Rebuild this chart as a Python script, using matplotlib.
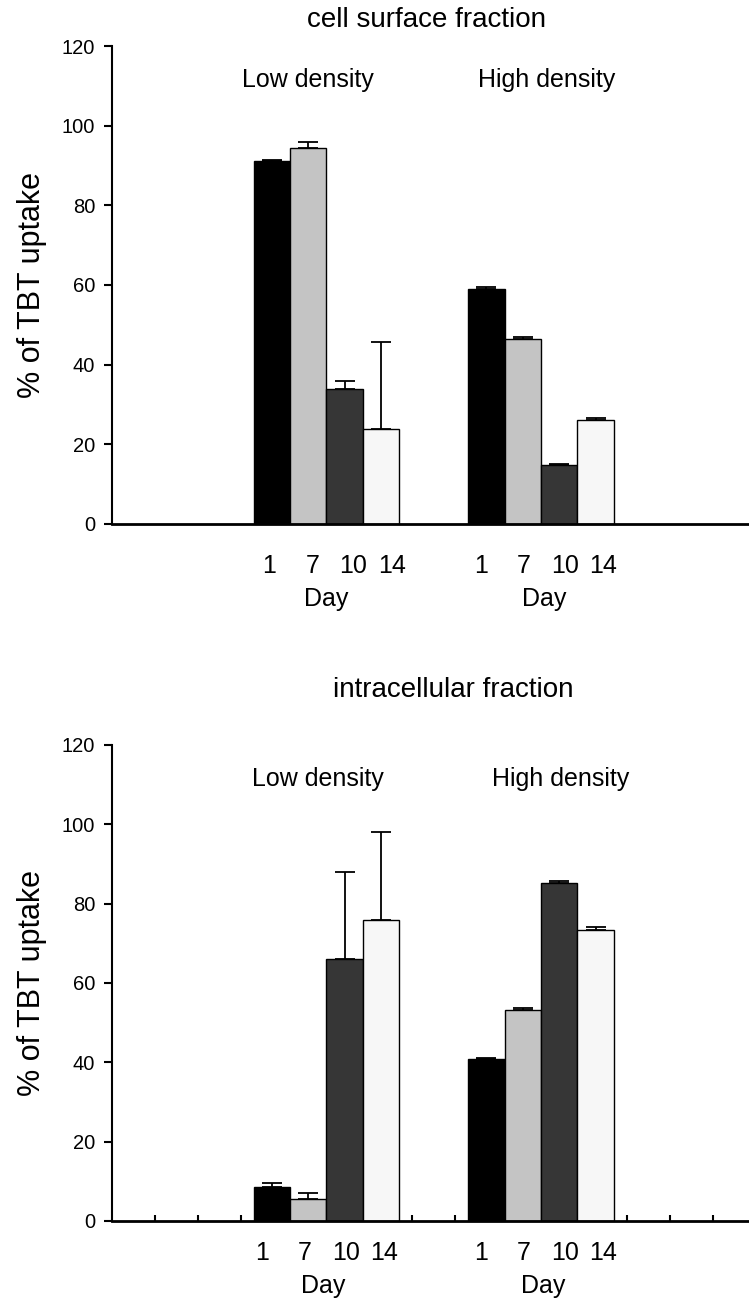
import matplotlib
matplotlib.use("Agg")
import matplotlib.pyplot as plt
import numpy as np

plt.rcParams['font.family'] = ['Liberation Sans', 'DejaVu Sans']

# ---- data ----
days = ["1", "7", "10", "14"]
groups = ["Low density", "High density"]
group_centers = [5, 10]

surface_low = [91.2, 94.3, 34.0, 23.8]
surface_low_err = [0.3, 1.5, 2.0, 22.0]
surface_high = [59.0, 46.5, 14.8, 26.2]
surface_high_err = [0.5, 0.5, 0.2, 0.4]

intra_low = [8.5, 5.5, 66.0, 76.0]
intra_low_err = [1.0, 1.5, 22.0, 22.0]
intra_high = [40.8, 53.3, 85.2, 73.4]
intra_high_err = [0.3, 0.5, 0.4, 0.6]

yticks = [0, 20, 40, 60, 80, 100, 120]
colors = ["#000000", "#c4c4c4", "#363636", "#f7f7f7"]

W, H = 749, 1309
fig = plt.figure(figsize=(W / 100, H / 100), dpi=100)

bar_w = 0.85
offsets = np.array([-1.5, -0.5, 0.5, 1.5]) * bar_w


def px_axes(left, right, top, bottom):
    return fig.add_axes([left / W, 1 - bottom / H, (right - left) / W, (bottom - top) / H])


def panel(ax, low, low_err, high, high_err, title, title_xy, grp_pos, day_shift,
          day_lbl_pos, inner_ticks, num_dy, day_dy):
    for c, vals, errs in zip(group_centers, [low, high], [low_err, high_err]):
        for i in range(4):
            ax.bar(c + offsets[i], vals[i], width=bar_w, color=colors[i],
                   edgecolor="black", linewidth=1.0, zorder=2)
            ax.errorbar(c + offsets[i], vals[i], yerr=[[0], [errs[i]]], fmt="none",
                        ecolor="black", elinewidth=1.3, capsize=7, capthick=1.3, zorder=3)
    ax.set_xlim(0, 15)
    ax.set_ylim(0, 120)
    ax.set_yticks(yticks)
    ax.tick_params(axis="y", direction="out", length=6, width=1.5, labelsize=14.5, pad=6)
    if inner_ticks:
        ax.set_xticks(np.arange(1, 15))
        ax.tick_params(axis="x", direction="in", length=4, width=1.5, labelbottom=False)
    else:
        ax.set_xticks([])
    ax.set_axisbelow(True)
    for s in ["top", "right"]:
        ax.spines[s].set_visible(False)
    ax.spines["left"].set_linewidth(1.5)
    ax.spines["bottom"].set_linewidth(2.0)
    ax.set_ylabel("% of TBT uptake", fontsize=22, labelpad=11)
    fig.text(title_xy[0] / W, 1 - title_xy[1] / H, title, ha="center", va="center", fontsize=20)
    for g, gx in zip(groups, grp_pos):
        ax.text(gx, 111.5, g, ha="center", va="center", fontsize=18)
    lbl_off = [-1.4, -0.4, 0.55, 1.45]
    for c, sh, dx in zip(group_centers, day_shift, day_lbl_pos):
        for d, o in zip(days, lbl_off):
            ax.annotate(d, xy=(c + o + sh, 0), xycoords="data", xytext=(0, num_dy),
                        textcoords="offset points", ha="center", va="center", fontsize=18,
                        annotation_clip=False)
        ax.annotate("Day", xy=(dx, 0), xycoords="data", xytext=(0, day_dy),
                    textcoords="offset points", ha="center", va="center", fontsize=18,
                    annotation_clip=False)


ax1 = px_axes(112, 112 + 15 * 42.9, 46, 524)
panel(ax1, surface_low, surface_low_err, surface_high, surface_high_err,
      "cell surface fraction", (426, 20), [4.57, 10.14], [0.07, 0.0], [5.0, 10.08],
      False, -30, -54)

ax2 = px_axes(112, 112 + 15 * 42.9, 745, 1221)
panel(ax2, intra_low, intra_low_err, intra_high, intra_high_err,
      "intracellular fraction", (453, 690), [4.8, 10.45], [-0.1, 0.0], [4.92, 10.05],
      True, -23, -47)

fig.savefig("out.png", dpi=100)
